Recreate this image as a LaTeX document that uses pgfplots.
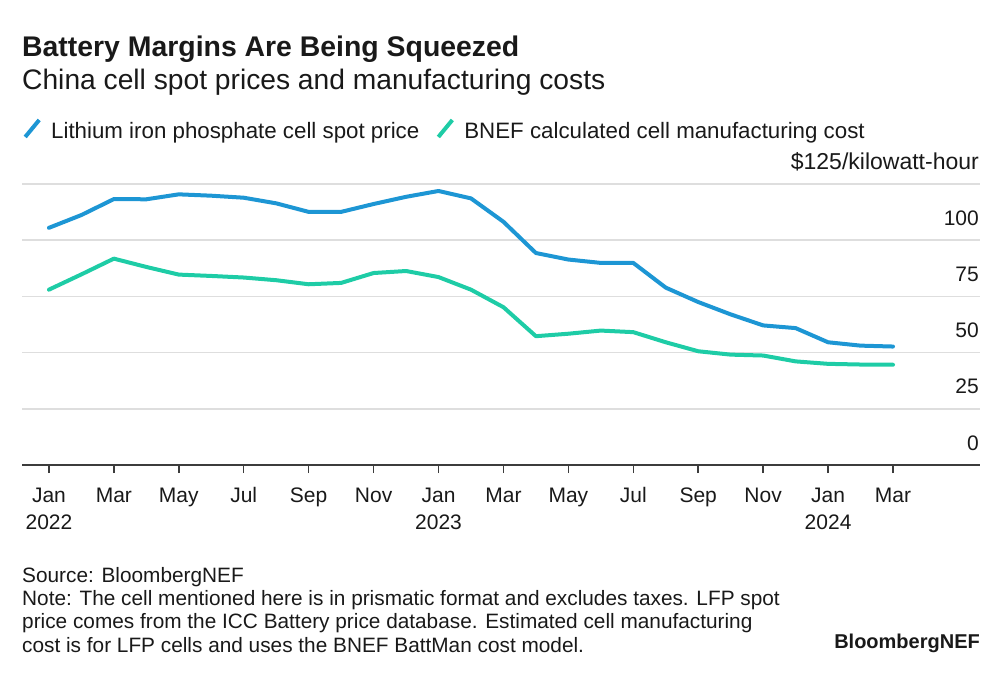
\documentclass[border=0pt]{standalone}
\usepackage{fontspec}
\setmainfont{Liberation Sans}
\usepackage{pgfplots}
\pgfplotsset{compat=1.18}

\definecolor{lfpblue}{RGB}{29,150,212}
\definecolor{costgreen}{RGB}{30,204,166}
\definecolor{gridgray}{RGB}{222,222,222}
\definecolor{axisgray}{RGB}{60,60,60}
\definecolor{inkgray}{RGB}{25,25,25}

\begin{document}
\begin{tikzpicture}[x=1pt,y=1pt]
\useasboundingbox (0,-675) rectangle (1000,0);

% title block
\node[anchor=base west, inner sep=0pt, text=inkgray, font=\fontsize{28.4}{32}\selectfont\bfseries] at (22,-56) {Battery Margins Are Being Squeezed};
\node[anchor=base west, inner sep=0pt, text=inkgray, font=\fontsize{28.2}{32}\selectfont] at (22,-89) {China cell spot prices and manufacturing costs};

\begin{axis}[
    at={(22pt,-465pt)}, anchor=south west,
    scale only axis, width=958pt, height=281pt,
    xmin=-0.83, xmax=28.68, ymin=0, ymax=125,
    axis x line*=bottom, axis y line*=right,
    y axis line style={draw=none},
    x axis line style={draw=axisgray, line width=2pt},
    tick align=outside, major tick length=8pt,
    typeset ticklabels with strut,
    xtick={0,2,...,26},
    xticklabels={{Jan\\2022},Mar,May,Jul,Sep,Nov,{Jan\\2023},Mar,May,Jul,Sep,Nov,{Jan\\2024},Mar},
    xticklabel style={align=center, text=inkgray, font=\fontsize{21}{27}\selectfont, inner sep=0pt, anchor=north, yshift=-10pt},
    xtick style={draw=axisgray, line width=1.5pt},
    ytick={0,25,...,125},
    yticklabels={0,25,50,75,100,{\fontsize{23}{25}\selectfont\$125/kilowatt-hour}},
    yticklabel style={anchor=base east, text=inkgray, inner sep=0pt, font=\fontsize{21}{25}\selectfont, xshift=-9pt, yshift=15pt},
    ytick style={draw=none},
    ymajorgrids, grid style={draw=gridgray, line width=1.5pt},
    /pgf/number format/assume math mode=true,
    legend columns=-1,
    legend image code/.code={
        \path[draw=none, fill=none] (0pt,-6pt) rectangle (29pt,10pt);
        \draw[#1, line cap=butt] (3pt,-6pt) -- (17pt,11pt);},
    legend style={at={(axis description cs:0,1)}, anchor=south west, yshift=44pt,
        draw=none, fill=none, inner sep=0pt, text=inkgray,
        nodes={inner sep=0pt},
        font=\fontsize{22.3}{26}\selectfont,
        /tikz/every even column/.append style={column sep=16pt}},
]

\addplot[lfpblue, line width=4pt, line join=round, line cap=round] coordinates {
(0,105.5)(1,111.2)(2,118.3)(3,118.2)(4,120.4)(5,119.8)(6,118.9)(7,116.4)
(8,112.6)(9,112.6)(10,116.1)(11,119.3)(12,121.9)(13,118.6)(14,108.2)
(15,94.3)(16,91.4)(17,89.9)(18,89.9)(19,78.9)(20,72.5)(21,67.0)(22,62.1)
(23,60.9)(24,54.6)(25,53.1)(26,52.7)
};
\addlegendentry{Lithium iron phosphate cell spot price}

\addplot[costgreen, line width=4pt, line join=round, line cap=round] coordinates {
(0,78.0)(1,84.8)(2,91.8)(3,88.1)(4,84.7)(5,84.1)(6,83.4)(7,82.2)
(8,80.4)(9,81.0)(10,85.4)(11,86.3)(12,83.6)(13,78.0)(14,70.2)
(15,57.3)(16,58.4)(17,59.8)(18,59.1)(19,54.6)(20,50.6)(21,49.1)(22,48.7)
(23,46.1)(24,45.0)(25,44.7)(26,44.6)
};
\addlegendentry{BNEF calculated cell manufacturing cost}

\end{axis}

% footer
\begin{scope}[every node/.style={anchor=base west, inner sep=0pt, text=inkgray, font=\fontsize{20.8}{23.5}\selectfont}]
\node at (22,-582) {Source: BloombergNEF};
\node at (22,-605) {Note: The cell mentioned here is in prismatic format and excludes taxes. LFP spot};
\node at (22,-628) {price comes from the ICC Battery price database. Estimated cell manufacturing};
\node at (22,-652) {cost is for LFP cells and uses the BNEF BattMan cost model.};
\end{scope}
\node[anchor=base east, inner sep=0pt, text=inkgray, font=\fontsize{20}{24}\selectfont\bfseries] at (980,-648) {BloombergNEF};

\end{tikzpicture}
\end{document}
